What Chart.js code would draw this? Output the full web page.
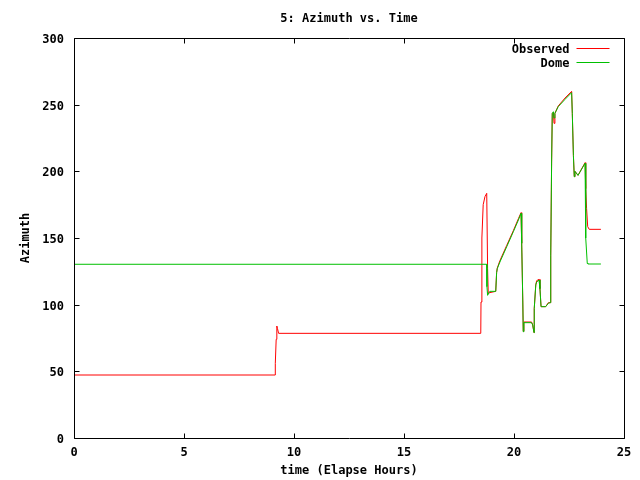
<!DOCTYPE html>
<html>
<head>
<meta charset="utf-8">
<script src="https://cdn.jsdelivr.net/npm/chart.js@4.4.1/dist/chart.umd.min.js"></script>
<style>
  html, body { margin: 0; padding: 0; background: #fff; }
  #wrap { width: 640px; height: 480px; }
</style>
</head>
<body>
<div id="wrap"><canvas id="azChart"></canvas></div>
<script>
// time in elapsed hours, azimuth in degrees
const obsTime = [0, 9.14, 9.15, 9.19, 9.22, 9.25, 9.3, 18.49, 18.5, 18.54, 18.6, 18.68, 18.76, 18.8, 18.83, 18.9,
    19.17, 19.21, 19.24, 19.36, 19.67, 19.97, 20.2, 20.32, 20.35, 20.4, 20.42, 20.45, 20.8, 20.85, 20.91, 20.92,
    20.99, 21.03, 21.14, 21.18, 21.23, 21.44, 21.56, 21.64, 21.67, 21.71, 21.74, 21.79, 21.82, 21.86, 22.01,
    22.32, 22.62, 22.65, 22.7, 22.74, 22.77, 22.91, 23.23, 23.26, 23.3, 23.35, 23.42, 23.95];
const obsAz = [47.25, 47.25, 56, 74, 84, 82, 78.5, 78.5, 102, 150, 175, 181, 183.5, 127, 108.5, 109,
    110, 124, 127.5, 133, 144.5, 155.5, 164.5, 169, 146, 102, 80, 87, 87, 84.7, 79, 97,
    115, 118, 119, 112, 98.5, 98.5, 101.5, 101.5, 137, 207, 243.5, 244, 236, 243.5, 249,
    255, 260, 243.5, 212, 196, 200, 197, 206.5, 187, 172, 158.5, 156.5, 156.5];

const domeTime = [0, 18.76, 18.77, 18.8, 18.9, 19.17, 19.21, 19.24, 19.36, 19.67, 19.97, 20.2, 20.32, 20.35,
    20.4, 20.42, 20.45, 20.8, 20.85, 20.91, 20.92, 20.99, 21.03, 21.14, 21.18, 21.23, 21.44, 21.56, 21.64,
    21.67, 21.71, 21.74, 21.79, 21.82, 21.86, 22.01, 22.32, 22.62, 22.65, 22.7, 22.74, 22.77, 22.91, 23.23,
    23.26, 23.33, 23.36, 23.95];
const domeAz = [130.3, 130.3, 113.5, 107, 110, 110, 124, 127, 132, 143.5, 154.7, 163.5, 168.5, 146,
    102, 79.7, 86.5, 86.5, 84.7, 79, 97, 114.7, 117, 118.5, 112, 98.5, 98.5, 101, 101.5,
    136.5, 207, 243.5, 244.7, 240, 243.5, 248.5, 254, 259, 243.5, 212, 196, 200, 197, 206,
    150, 131, 130.5, 130.5];

const xTicks = [0, 5, 10, 15, 20, 25];
const yTicks = [0, 50, 100, 150, 200, 250, 300];

const FONT = { family: '"DejaVu Sans Mono", "Liberation Mono", monospace', size: 12, weight: 'bold' };

function toPoints(xs, ys) {
    return xs.map((x, i) => ({ x: x, y: ys[i] }));
}

// gnuplot look: box round the plot, ticks pointing inward on all four sides, legend top right
const gnuplotFrame = {
    id: 'gnuplotFrame',
    afterDatasetsDraw(chart) {
        const ctx = chart.ctx;
        const a = chart.chartArea;
        const xs = chart.scales.x, ys = chart.scales.y;
        const L = Math.round(a.left) + 0.5, R = Math.round(a.right) + 0.5;
        const T = Math.round(a.top) + 0.5, B = Math.round(a.bottom) + 0.5;
        ctx.save();
        ctx.strokeStyle = '#000';
        ctx.lineWidth = 1;
        ctx.beginPath();
        ctx.rect(L, T, R - L, B - T);
        xTicks.forEach(v => {
            const px = Math.round(xs.getPixelForValue(v)) + 0.5;
            ctx.moveTo(px, B); ctx.lineTo(px, B - 5);
            ctx.moveTo(px, T); ctx.lineTo(px, T + 5);
        });
        yTicks.forEach(v => {
            const py = Math.round(ys.getPixelForValue(v)) + 0.5;
            ctx.moveTo(L, py); ctx.lineTo(L + 5, py);
            ctx.moveTo(R, py); ctx.lineTo(R - 5, py);
        });
        ctx.stroke();

        // legend
        ctx.font = `${FONT.weight} ${FONT.size}px ${FONT.family}`;
        ctx.textAlign = 'right';
        ctx.textBaseline = 'middle';
        chart.data.datasets.forEach((ds, i) => {
            const y = Math.round(a.top + 10 + i * 13.5) + 0.5;
            ctx.fillStyle = '#000';
            ctx.fillText(ds.label, R - 55, y + 1);
            ctx.strokeStyle = ds.borderColor;
            ctx.beginPath();
            ctx.moveTo(R - 48, y);
            ctx.lineTo(R - 15, y);
            ctx.stroke();
        });
        ctx.restore();
    }
};

const ctx = document.getElementById('azChart').getContext('2d');
new Chart(ctx, {
    type: 'line',
    data: {
        datasets: [
            {
                label: 'Observed',
                data: toPoints(obsTime, obsAz),
                borderColor: '#ff0000',
                borderWidth: 1,
                pointRadius: 0,
                tension: 0,
                order: 1
            },
            {
                label: 'Dome',
                data: toPoints(domeTime, domeAz),
                borderColor: '#00c000',
                borderWidth: 1,
                pointRadius: 0,
                tension: 0,
                order: 0
            }
        ]
    },
    options: {
        responsive: true,
        maintainAspectRatio: false,
        animation: false,
        layout: { padding: { left: 0, right: 16, top: 0, bottom: 0 } },
        plugins: {
            legend: { display: false },
            tooltip: { enabled: false },
            title: {
                display: true,
                text: '5: Azimuth vs. Time',
                color: '#000',
                font: FONT,
                fullSize: false,
                padding: { top: 12, bottom: 11.6 }
            }
        },
        scales: {
            x: {
                type: 'linear',
                min: 0,
                max: 25,
                afterBuildTicks: s => { s.ticks = xTicks.map(v => ({ value: v })); },
                afterFit: s => { s.height = 42; },
                grid: { display: false, drawTicks: false },
                border: { display: false },
                ticks: { color: '#000', font: FONT, padding: 8, maxRotation: 0 },
                title: {
                    display: true,
                    text: 'time (Elapse Hours)',
                    color: '#000',
                    font: FONT,
                    padding: { top: 0, bottom: 2 }
                }
            },
            y: {
                type: 'linear',
                min: 0,
                max: 300,
                afterBuildTicks: s => { s.ticks = yTicks.map(v => ({ value: v })); },
                afterFit: s => { s.width = 74; },
                grid: { display: false, drawTicks: false },
                border: { display: false },
                ticks: { color: '#000', font: FONT, padding: 10, labelOffset: 2 },
                title: {
                    display: true,
                    text: 'Azimuth',
                    color: '#000',
                    font: FONT,
                    padding: { top: 19, bottom: 0 }
                }
            }
        }
    },
    plugins: [gnuplotFrame]
});
</script>
</body>
</html>
